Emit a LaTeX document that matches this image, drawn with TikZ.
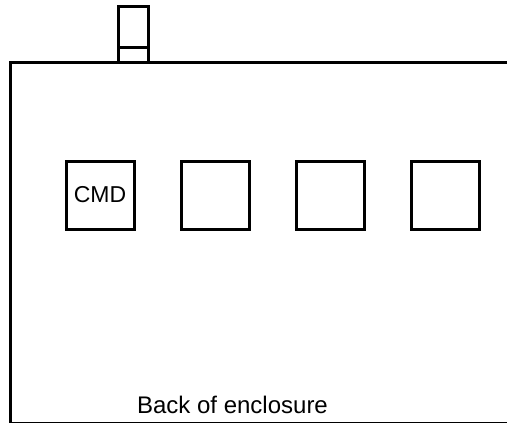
\documentclass[tikz,border=0pt]{standalone}
\usepackage{fontspec}
\setmainfont{Liberation Sans}
\begin{document}
\begin{tikzpicture}[x=1pt,y=-1pt,line width=3pt]
  \tikzset{slot/.style={draw,minimum size=68pt,inner sep=0pt,font=\fontsize{23}{27}\selectfont}}
  \useasboundingbox (0,0) rectangle (507,423);

  % enclosure, open to the right
  \draw (508,62.5) -- (10.5,62.5) -- (10.5,423.5) -- (508,423.5);
  % plug on the top edge
  \draw (118,6) rectangle (148,62.5);
  \draw (118,47) -- (148,47);

  \foreach \i/\lbl in {0/CMD,1/,2/,3/}
    \node[slot] (slot\i) at (100+115*\i,195) {\lbl};

  \node[anchor=base,inner sep=0pt,font=\fontsize{24}{28}\selectfont] (back) at (232.5,413) {Back of enclosure};
\end{tikzpicture}
\end{document}
